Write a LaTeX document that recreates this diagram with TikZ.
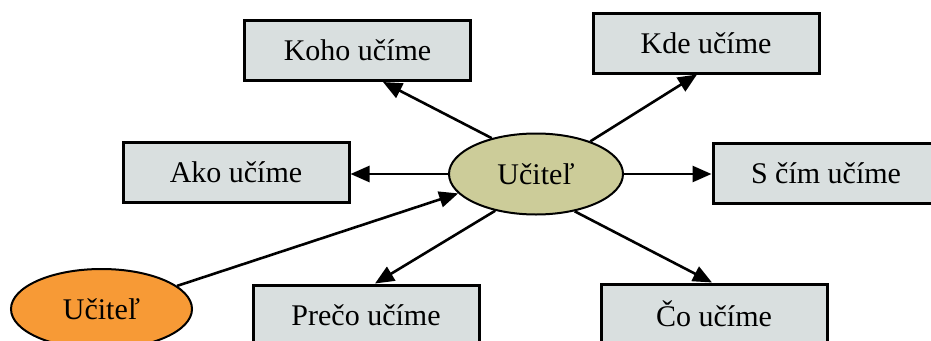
\documentclass[tikz,border=0pt]{standalone}
\usepackage{fontspec}
\setmainfont{Liberation Serif}
\usetikzlibrary{shapes.geometric,arrows.meta}
\definecolor{boxfill}{HTML}{D9DFDF}
\definecolor{tanfill}{HTML}{CCCC99}
\definecolor{orangefill}{HTML}{F79A36}
\tikzset{
  topic/.style={draw, line width=3pt, fill=boxfill, rectangle, minimum width=226pt, minimum height=60pt, inner sep=0pt, font=\fontsize{30}{34}\selectfont},
  oval/.style={draw, line width=2pt, ellipse, inner sep=0pt, font=\fontsize{30}{34}\selectfont},
  arr/.style={line width=2.6pt, -{Triangle[length=19pt,width=16pt]}}
}
\begin{document}
\begin{tikzpicture}[x=1pt,y=-1pt]
\useasboundingbox (0,0) rectangle (931,340);
\node[topic] (koho) at (357.5,50.5) {Koho učíme};
\node[topic] (kde) at (706,43) {Kde učíme};
\node[topic] (ako) at (236,172.5) {Ako učíme};
\node[topic] (scim) at (826,173) {S čím učíme};
\node[topic] (preco) at (366,315) {Prečo učíme};
\node[topic] (co) at (714,314) {Čo učíme};
\node[oval, fill=tanfill, minimum width=174pt, minimum height=81pt] (c) at (536,174) {Učiteľ};
\node[oval, fill=orangefill, minimum width=181pt, minimum height=80pt] (o) at (101.5,309) {Učiteľ};
\draw[arr] (c.141.7) -- ([xshift=25.5pt]koho.south);
\draw[arr] (c.31.3) -- ([xshift=-9pt]kde.south);
\draw[arr] (c.east) -- (c.east -| scim.west);
\draw[arr] (c.west) -- (c.west -| ako.east);
\draw[arr] (c.222.8) -- ([xshift=9pt]preco.north);
\draw[arr] (c.316.5) -- ([xshift=-2pt]co.north);
\draw[arr] (o.17.5) -- (c.194.5);
\end{tikzpicture}
\end{document}
